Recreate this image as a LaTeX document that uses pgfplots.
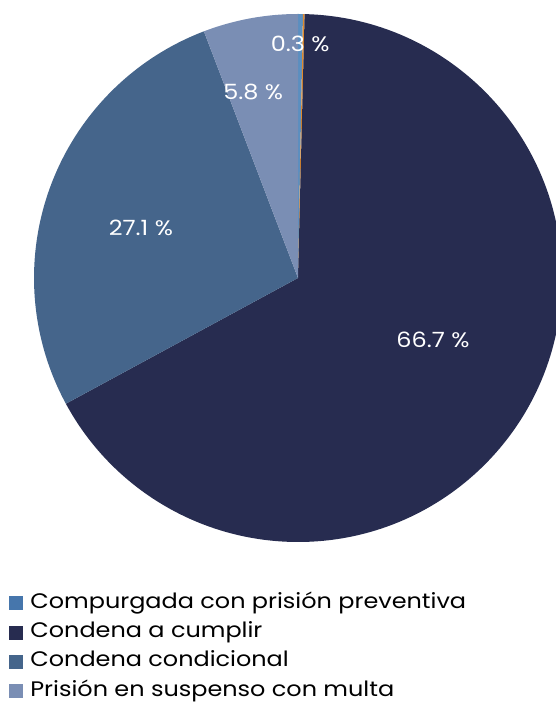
\documentclass[border=0pt]{standalone}
\usepackage{pgfplots}
\usepackage{pgfplotstable}
\pgfplotsset{compat=1.18}
\usepackage{fontspec}
\setmainfont{Poppins}
\newfontfamily\chartfont[FakeStretch=1.14]{Poppins}
\definecolor{pie0}{HTML}{5B8FC0}
\definecolor{pie1}{HTML}{E08A2C}
\definecolor{pie2}{HTML}{272C50}
\definecolor{pie3}{HTML}{45658B}
\definecolor{pie4}{HTML}{7A8EB4}
\definecolor{leg0}{HTML}{4676AC}
\pgfplotstableread{
label value
Compurgada 0.3
Otro 0.1
Cumplir 66.7
Condicional 27.1
Suspenso 5.8
}\piedata
\begin{document}
\begin{tikzpicture}
\begin{axis}[
  at={(34pt,162pt)}, anchor=south west,
  scale only axis, width=528pt, height=528pt,
  xmin=-1, xmax=1, ymin=-1, ymax=1,
  hide axis, clip=false,
  legend cell align=left,
  legend image code/.code={\fill[#1, draw=none] (0pt,-7pt) rectangle (14pt,7pt); \path (19pt,0pt);},
  legend style={at={(rel axis cs:-0.047,-0.095)}, anchor=north west,
    draw=none, fill=none, inner sep=0pt, outer sep=0pt, row sep=7.4pt,
    font=\chartfont\fontsize{21}{25}\selectfont,
    nodes={inner sep=2pt, text height=14pt, text depth=4pt}},
]
\pgfplotstablegetrowsof{\piedata}
\pgfmathtruncatemacro\N{\pgfplotsretval-1}
\xdef\angleA{90}
\pgfplotsforeachungrouped \i in {0,...,\N}{%
  \pgfplotstablegetelem{\i}{value}\of\piedata
  \pgfmathsetmacro\angleB{\angleA-3.6*\pgfplotsretval}%
  \edef\cmd{\noexpand\fill[pie\i] (axis cs:0,0) -- (axis cs:{cos(\angleA)},{sin(\angleA)}) arc[start angle=\angleA, end angle=\angleB, radius=264pt] -- cycle;}%
  \cmd
  \xdef\angleA{\angleB}%
}
\addlegendimage{fill=leg0}\addlegendentry{Compurgada con prisión preventiva}
\addlegendimage{fill=pie2}\addlegendentry{Condena a cumplir}
\addlegendimage{fill=pie3}\addlegendentry{Condena condicional}
\addlegendimage{fill=pie4}\addlegendentry{Prisión en suspenso con multa}
\begin{scope}[every node/.style={text=white, font=\chartfont\fontsize{21}{25}\selectfont}]
\node at (axis cs:0.008,0.886) {0.3 \%};
\node at (axis cs:-0.170,0.705) {5.8 \%};
\node at (axis cs:-0.595,0.189) {27.1 \%};
\node at (axis cs:0.511,-0.235) {66.7 \%};
\end{scope}
\end{axis}
\pgfresetboundingbox
\useasboundingbox (0,0) rectangle (555pt,704pt);
\end{tikzpicture}
\end{document}
